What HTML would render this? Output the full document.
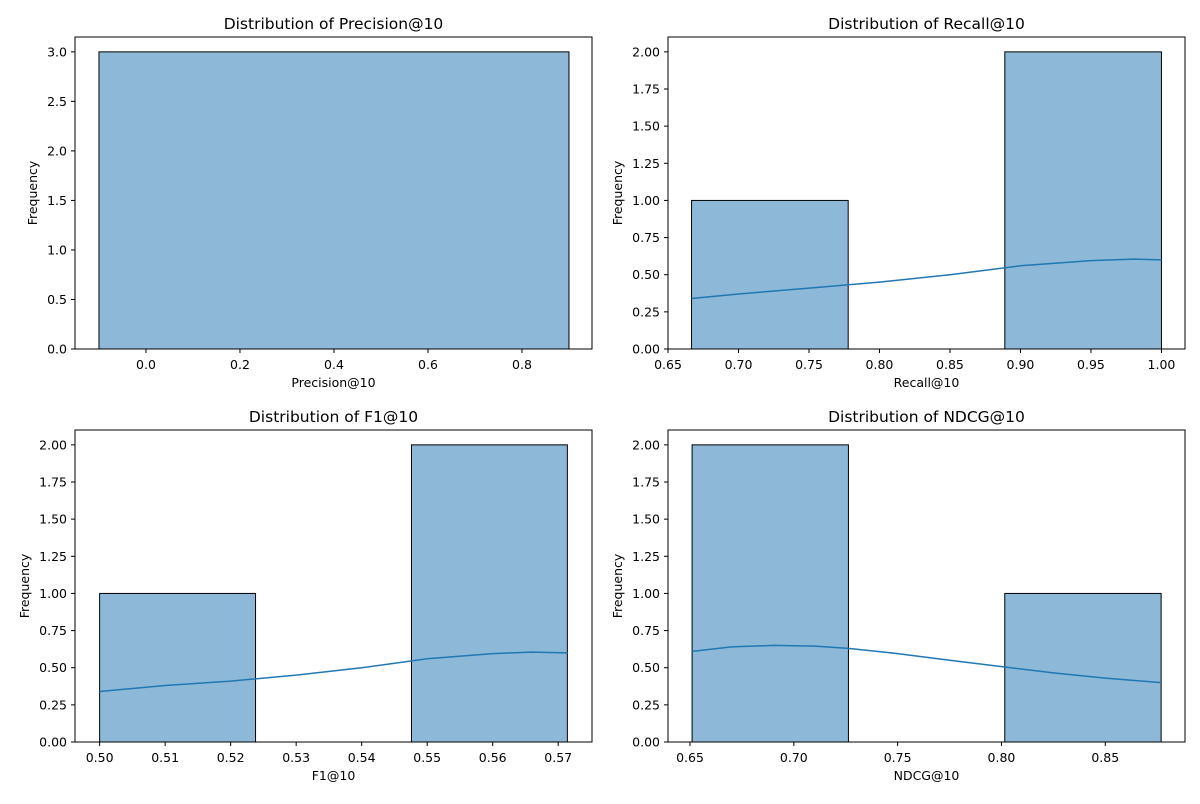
<!DOCTYPE html>
<html><head><meta charset="utf-8"><style>
body{margin:0;background:#fff;font-family:"DejaVu Sans","Liberation Sans",sans-serif;}
svg text{font-family:"DejaVu Sans","Liberation Sans",sans-serif;}
</style></head><body>
<svg id="c" width="1200" height="800" xmlns="http://www.w3.org/2000/svg"></svg>
<script>
// Panel 1: Precision@10
const p1Edges=[-0.1,0.9];
const p1Counts=[3];
const p1XTicks=[0.0,0.2,0.4,0.6,0.8];
const p1YTicks=[0.0,0.5,1.0,1.5,2.0,2.5,3.0];
const p1KdeX=[];const p1KdeY=[];
// Panel 2: Recall@10
const p2Edges=[0.6667,0.7778,0.8889,1.0];
const p2Counts=[1,0,2];
const p2XTicks=[0.65,0.70,0.75,0.80,0.85,0.90,0.95,1.00];
const p2YTicks=[0,0.25,0.5,0.75,1.0,1.25,1.5,1.75,2.0];
const p2KdeX=[0.6667,0.70,0.75,0.80,0.85,0.90,0.95,0.98,1.0];
const p2KdeY=[0.34,0.37,0.41,0.45,0.50,0.56,0.595,0.605,0.60];
// Panel 3: F1@10
const p3Edges=[0.5,0.5238,0.5476,0.5714];
const p3Counts=[1,0,2];
const p3XTicks=[0.50,0.51,0.52,0.53,0.54,0.55,0.56,0.57];
const p3YTicks=p2YTicks;
const p3KdeX=[0.5,0.51,0.52,0.53,0.54,0.55,0.56,0.566,0.5714];
const p3KdeY=[0.34,0.38,0.41,0.45,0.50,0.56,0.595,0.605,0.60];
// Panel 4: NDCG@10
const p4Edges=[0.651,0.7263,0.8016,0.8769];
const p4Counts=[2,0,1];
const p4XTicks=[0.65,0.70,0.75,0.80,0.85];
const p4YTicks=p2YTicks;
const p4KdeX=[0.651,0.67,0.69,0.71,0.7263,0.75,0.775,0.8016,0.825,0.85,0.8769];
const p4KdeY=[0.61,0.64,0.65,0.645,0.63,0.595,0.55,0.505,0.465,0.43,0.40];

const NS="http://www.w3.org/2000/svg";
const svg=document.getElementById('c');
function el(t,a,p){const e=document.createElementNS(NS,t);for(const k in a)e.setAttribute(k,a[k]);(p||svg).appendChild(e);return e;}
function tw(s){let w=0;for(const ch of s)w+=(ch==='.')?4.0:8.0;return w;}
function panel(name,box,xlim,ylim,edges,counts,xt,yt,kx,ky,title,xlabel,xfmt,yfmt){
 const g=el('g',{});
 
 
 const [L,T,R,B]=box;
 const X=v=>L+(v-xlim[0])/(xlim[1]-xlim[0])*(R-L);
 const Y=v=>B-(v-ylim[0])/(ylim[1]-ylim[0])*(B-T);
 for(let i=0;i<counts.length;i++){
  if(counts[i]<=0)continue;
  const r=el('rect',{x:X(edges[i]),y:Y(counts[i]),width:X(edges[i+1])-X(edges[i]),height:Y(0)-Y(counts[i]),fill:'#8db8d8',stroke:'#000','stroke-width':1},g);
  
  
 }
 if(kx.length){
  const pl=el('polyline',{points:kx.map((v,i)=>X(v)+','+Y(ky[i])).join(' '),fill:'none',stroke:'#1f77b4','stroke-width':1.5},g);
  
  
 }
 const fr=el('rect',{x:L,y:T,width:R-L,height:B-T,fill:'none',stroke:'#000','stroke-width':1},g);
 
 
 xt.forEach(v=>{const x=X(v);el('line',{x1:x,x2:x,y1:B,y2:B+4,stroke:'#000'},g);
  const t=el('text',{x:x,y:B+20,'text-anchor':'middle','font-size':12.5},g);t.textContent=xfmt(v);
  
  });
 yt.forEach(v=>{const y=Y(v);el('line',{x1:L-4,x2:L,y1:y,y2:y,stroke:'#000'},g);
  const t=el('text',{x:L-8,y:y+4.5,'text-anchor':'end','font-size':12.5},g);t.textContent=yfmt(v);
  
  });
 const tt=el('text',{x:(L+R)/2,y:T-8,'text-anchor':'middle','font-size':15.5},g);tt.textContent=title;
 
 
 const xl=el('text',{x:(L+R)/2,y:B+38,'text-anchor':'middle','font-size':12.5},g);xl.textContent=xlabel;
 
 
 const yw=tw(yfmt(yt[yt.length-1]));
 const yx=L-8-yw-10;
 const yl=el('text',{x:yx,y:(T+B)/2,'text-anchor':'middle','font-size':12.5,transform:`rotate(-90 ${yx} ${(T+B)/2})`},g);yl.textContent='Frequency';
 
 
}
const f1=v=>v.toFixed(1),f2=v=>v.toFixed(2);
panel('precision',[75,37,592,349],[-0.151,0.949],[0,3.15],p1Edges,p1Counts,p1XTicks,p1YTicks,p1KdeX,p1KdeY,'Distribution of Precision@10','Precision@10',f1,f1);
panel('recall',[668,37,1185,349],[0.65,1.0167],[0,2.1],p2Edges,p2Counts,p2XTicks,p2YTicks,p2KdeX,p2KdeY,'Distribution of Recall@10','Recall@10',f2,f2);
panel('f1',[75,430,592,742],[0.49624,0.57516],[0,2.1],p3Edges,p3Counts,p3XTicks,p3YTicks,p3KdeX,p3KdeY,'Distribution of F1@10','F1@10',f2,f2);
panel('ndcg',[668,430,1185,742],[0.6394,0.8884],[0,2.1],p4Edges,p4Counts,p4XTicks,p4YTicks,p4KdeX,p4KdeY,'Distribution of NDCG@10','NDCG@10',f2,f2);
</script>
</body></html>
